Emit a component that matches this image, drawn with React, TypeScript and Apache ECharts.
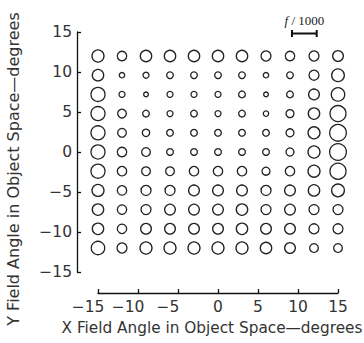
import React, { useEffect, useRef } from "react";
import * as echarts from "echarts";

// Field angles (degrees)
const xAngles = [-15, -12, -9, -6, -3, 0, 3, 6, 9, 12, 15];
const yAngles = [12, 9.6, 7.2, 4.8, 2.4, 0, -2.4, -4.8, -7.2, -9.6, -12];
// Spot diameters (same units as the f/1000 scale bar below), row by row (top row = +12°)
const spotRows: number[][] = [
  [13.3, 10.7, 12.7, 12.7, 12.7, 12.7, 12.7, 11.3, 10.7, 11.3, 12],
  [12.7, 6.7, 7.3, 8, 8, 8, 8, 6.7, 8, 11.3, 14],
  [15.3, 7.3, 6, 7.3, 7.3, 7.3, 8, 6, 8, 12, 14.7],
  [15.3, 10, 8, 7.3, 8, 7.3, 8, 6.7, 9.3, 12.7, 17.3],
  [15.3, 10, 8.7, 8, 8, 8, 8, 8, 9.3, 13.3, 18],
  [15.3, 10.7, 10, 8, 8, 8, 8, 8, 9.3, 13.3, 18],
  [15.3, 10.7, 10, 10, 10.7, 10.7, 10.7, 9.3, 10.7, 13.3, 17.3],
  [13.3, 10.7, 11.3, 11.3, 12, 12, 12, 11.3, 12, 12.7, 14],
  [12.7, 10.7, 11.3, 12, 12, 12, 12.7, 11.3, 12, 11.3, 11.3],
  [12.7, 10.7, 12, 12, 12, 12, 12.7, 12, 12, 11.3, 11.3],
  [14.7, 11.3, 13.3, 13.3, 13.3, 13.3, 13.3, 12.7, 12, 10, 10],
];
const scaleBarValue = 24.7; // f/1000 in spot units
const xTitle = "X Field Angle in Object Space\u2014degrees";
const yTitle = "Y Field Angle in Object Space\u2014degrees";

const FONT = "'DejaVu Sans', sans-serif";
const FS = 15.5;
const fmtY = (v: number) => (v < 0 ? "\u2212" + Math.abs(v) : String(v));
const fmtX = (v: number) => (v < 0 ? "{neg|\u2212" + Math.abs(v) + "}" : "{pos|" + v + "}");

export default function App() {
  const ref = useRef<HTMLDivElement>(null);
  useEffect(() => {
    if (!ref.current) return;
    const chart = echarts.init(ref.current, undefined, { renderer: "svg" });
    const data: number[][] = [];
    yAngles.forEach((y, i) => {
      xAngles.forEach((x, j) => {
        data.push([x, y, spotRows[i][j]]);
      });
    });
    const stroke = 1.3;
    const barX0 = 292;
    const barY = 33.5;
    const textBase = { fontFamily: FONT, fontSize: FS, color: "#333" };
    const axisCommon = {
      type: "value",
      min: -15,
      max: 15,
      interval: 5,
      offset: 21,
      axisLine: { show: true, onZero: false, lineStyle: { color: "#111", width: 1.3 } },
      axisTick: { show: true, inside: true, length: 4, lineStyle: { color: "#111", width: 1.3 } },
      splitLine: { show: false },
    };
    chart.setOption({
      animation: false,
      grid: { left: 98, right: 26, top: 32, bottom: 71, containLabel: false, outerBoundsMode: "none" },
      xAxis: {
        ...axisCommon,
        axisLabel: {
          formatter: fmtX,
          ...textBase,
          margin: 6,
          rich: {
            neg: { ...textBase, padding: [0, 20, 0, 0] },
            pos: { ...textBase },
          },
        },
      },
      yAxis: {
        ...axisCommon,
        axisLabel: { formatter: fmtY, ...textBase, margin: 5 },
      },
      series: [
        {
          type: "scatter",
          data,
          symbol: "circle",
          symbolSize: (v: number[]) => v[2] - stroke,
          itemStyle: { color: "rgba(0,0,0,0)", borderColor: "#222", borderWidth: stroke, opacity: 1 },
          emphasis: { disabled: true },
        },
      ],
      graphic: [
        {
          type: "text",
          x: 212,
          y: 328,
          style: {
            text: xTitle,
            align: "center",
            verticalAlign: "middle",
            fontFamily: FONT,
            fontSize: 15.3,
            fill: "#333",
          },
        },
        {
          type: "text",
          x: 13,
          y: 169,
          rotation: Math.PI / 2,
          style: {
            text: yTitle,
            align: "center",
            verticalAlign: "middle",
            fontFamily: FONT,
            fontSize: 16,
            fill: "#333",
          },
        },
        {
          type: "line",
          shape: { x1: barX0, y1: barY, x2: barX0 + scaleBarValue, y2: barY },
          style: { stroke: "#111", lineWidth: 2 },
        },
        {
          type: "line",
          shape: { x1: barX0, y1: barY - 3.5, x2: barX0, y2: barY + 3.5 },
          style: { stroke: "#111", lineWidth: 2 },
        },
        {
          type: "line",
          shape: { x1: barX0 + scaleBarValue, y1: barY - 3.5, x2: barX0 + scaleBarValue, y2: barY + 3.5 },
          style: { stroke: "#111", lineWidth: 2 },
        },
        {
          type: "text",
          x: barX0 + scaleBarValue / 2,
          y: 20,
          style: {
            text: "{i|f} {n|/ 1000}",
            align: "center",
            verticalAlign: "middle",
            rich: {
              i: { fontFamily: "'Liberation Serif', serif", fontStyle: "italic", fontSize: 13, fill: "#222" },
              n: { fontFamily: "'Liberation Serif', serif", fontSize: 13, fill: "#222" },
            },
          },
        },
      ],
    });
    return () => chart.dispose();
  }, []);
  return (
    <div
      ref={ref}
      style={{ position: "absolute", left: 0, top: 0, width: 364, height: 343, background: "#fff" }}
    />
  );
}
